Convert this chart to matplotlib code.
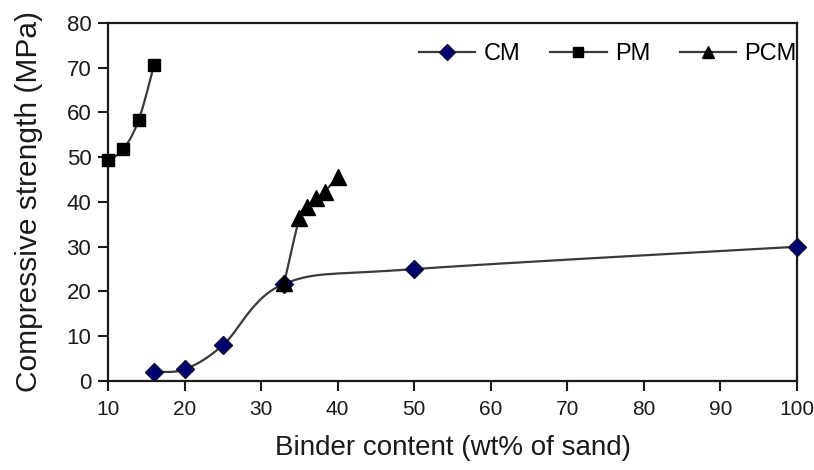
import numpy as np
import matplotlib
matplotlib.use("Agg")
import matplotlib.pyplot as plt

plt.rcParams['font.family'] = ['Liberation Sans', 'DejaVu Sans']

# data
cm_x = [16, 20, 25, 33, 50, 100]
cm_y = [2.1, 2.6, 8.0, 21.7, 25.0, 30.0]
pm_x = [10, 12, 14, 16]
pm_y = [49.3, 51.8, 58.3, 70.5]
pcm_x = [33, 35, 36, 37.2, 38.3, 40]
pcm_y = [21.8, 36.4, 38.9, 40.8, 42.3, 45.6]

x_ticks = list(range(10, 101, 10))
y_ticks = list(range(0, 81, 10))


def smooth(xs, ys, n=30):
    # Excel-like smoothed line (Catmull-Rom through the points)
    p = np.column_stack([xs, ys]).astype(float)
    p = np.vstack([p[0], p, p[-1]])
    out = []
    t = np.linspace(0, 1, n)[:, None]
    for i in range(1, len(p) - 2):
        p0, p1, p2, p3 = p[i - 1], p[i], p[i + 1], p[i + 2]
        c1 = p1 + (p2 - p0) / 6
        c2 = p2 - (p3 - p1) / 6
        seg = ((1 - t) ** 3) * p1 + 3 * ((1 - t) ** 2) * t * c1 + 3 * (1 - t) * t ** 2 * c2 + t ** 3 * p2
        out.append(seg)
    seg = np.vstack(out)
    return seg[:, 0], seg[:, 1]


fig = plt.figure(figsize=(8.14, 4.70), dpi=100)
ax = fig.add_axes([0.1327, 0.1894, 0.8464, 0.7617])

line_col = '#3a3a3a'
sx, sy = smooth(cm_x, cm_y)
ax.plot(sx, sy, color=line_col, lw=1.6, zorder=2)
sx, sy = smooth(pm_x, pm_y)
ax.plot(sx, sy, color=line_col, lw=1.6, zorder=2)
sx, sy = smooth(pcm_x, pcm_y)
ax.plot(sx, sy, color=line_col, lw=1.6, zorder=2)

ax.plot(cm_x, cm_y, ls='none', marker='D', ms=9, color='#000070', mec='#101030', zorder=3, clip_on=False)
ax.plot(pm_x, pm_y, ls='none', marker='s', ms=9, color='black', zorder=3, clip_on=False)
ax.plot(pcm_x, pcm_y, ls='none', marker='^', ms=11, color='black', zorder=3, clip_on=False)

# legend handles
h1, = ax.plot([], [], color=line_col, lw=1.6, marker='D', ms=8, mfc='#000070', mec='#101030', label='CM')
h2, = ax.plot([], [], color=line_col, lw=1.6, marker='s', ms=7, mfc='black', mec='black', label='PM')
h3, = ax.plot([], [], color=line_col, lw=1.6, marker='^', ms=9, mfc='black', mec='black', label='PCM')
ax.legend(handles=[h1, h2, h3], ncol=3, loc='upper right', bbox_to_anchor=(1.0, 0.943),
          frameon=False, fontsize=17, handlelength=2.4, handletextpad=0.35, columnspacing=1.25,
          borderpad=0, borderaxespad=0)

ax.set_xlim(10, 100)
ax.set_ylim(0, 80)
ax.set_xticks(x_ticks)
ax.set_yticks(y_ticks)
ax.tick_params(direction='out', length=7, width=1.5, colors='#1a1a1a')
ax.tick_params(axis='x', pad=7, labelsize=15)
ax.tick_params(axis='y', pad=5, labelsize=16)
for s in ax.spines.values():
    s.set_linewidth(1.6)
    s.set_color('#1a1a1a')

ax.set_xlabel('Binder content (wt% of sand)', fontsize=20, color='#1a1a1a', labelpad=11)
ax.set_ylabel('Compressive strength (MPa)', fontsize=21.5, color='#1a1a1a', labelpad=17)

fig.savefig('out.png', dpi=100)
